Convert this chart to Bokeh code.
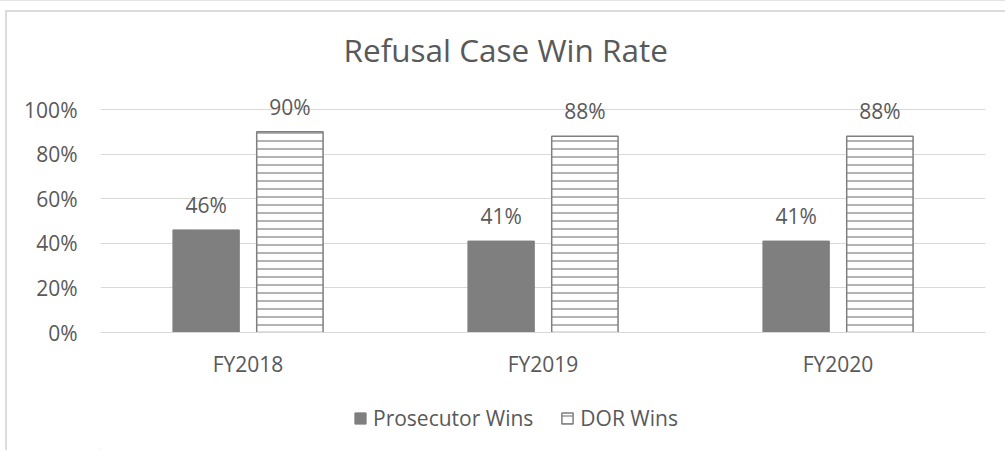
from bokeh.plotting import figure
from bokeh.layouts import column
from bokeh.models import (ColumnDataSource, FactorRange, Range1d, FixedTicker,
                          LabelSet, Legend, LegendItem, Title, NumeralTickFormatter)
from bokeh.transform import dodge
from bokeh.core.properties import value
from bokeh.embed import file_html
from bokeh.resources import INLINE

# ---- data ----
categories = ["FY2018", "FY2019", "FY2020"]
prosecutor_wins = [0.46, 0.41, 0.41]
dor_wins = [0.90, 0.88, 0.88]
y_ticks = [0, 0.2, 0.4, 0.6, 0.8, 1.0]
series_names = ["Prosecutor Wins", "DOR Wins"]

FONT = "Open Sans"
TXT = "#595959"
GREY = "#7f7f7f"
GRID = "#d9d9d9"
FS = "21px"

src = ColumnDataSource(dict(
    cat=categories,
    pros=prosecutor_wins,
    dor=dor_wins,
    pros_lbl=[f"{round(v*100)}%" for v in prosecutor_wins],
    dor_lbl=[f"{round(v*100)}%" for v in dor_wins],
))

p = figure(width=1005, height=390, output_backend="svg", toolbar_location=None,
           x_range=FactorRange(factors=categories, range_padding=0),
           y_range=Range1d(0, 1.1749),
           min_border_left=100, min_border_right=20, min_border_top=70,
           min_border_bottom=58)
p.outline_line_color = None
p.background_fill_color = "white"
p.border_fill_color = None

bw = 0.225
off = 0.142
pros_style = dict(fill_color=GREY, line_color=GREY, line_width=1)
dor_style = dict(fill_color="white", line_color=GREY, line_width=1.5,
                 hatch_pattern="horizontal_line", hatch_color=GREY, hatch_scale=8,
                 hatch_weight=1.2)
p.vbar(x=dodge("cat", -off, range=p.x_range), top="pros", width=bw, source=src, **pros_style)
p.vbar(x=dodge("cat", off, range=p.x_range), top="dor", width=bw, source=src, **dor_style)

for col, lbl, o in (("pros", "pros_lbl", -off), ("dor", "dor_lbl", off)):
    ls = LabelSet(x=dodge("cat", o, range=p.x_range), y=col, text=lbl, source=src,
                  text_align="center", text_baseline="alphabetic", y_offset=17,
                  text_font=value(FONT), text_font_size=FS, text_color=TXT)
    p.add_layout(ls)

# axes
p.yaxis.ticker = FixedTicker(ticks=y_ticks)
p.yaxis.formatter = NumeralTickFormatter(format="0%")
p.yaxis.axis_line_color = None
p.yaxis.major_tick_line_color = None
p.yaxis.minor_tick_line_color = None
p.yaxis.major_label_standoff = 17
p.yaxis.major_label_text_font = FONT
p.yaxis.major_label_text_font_size = FS
p.yaxis.major_label_text_color = TXT

p.xaxis.axis_line_color = GRID
p.xaxis.major_tick_line_color = None
p.xaxis.minor_tick_line_color = None
p.xaxis.major_label_standoff = 11
p.xaxis.major_label_text_font = FONT
p.xaxis.major_label_text_font_size = FS
p.xaxis.major_label_text_color = TXT

p.xgrid.grid_line_color = None
p.ygrid.grid_line_color = GRID
p.ygrid.grid_line_width = 1

p.title = Title(text="Refusal Case Win Rate", align="left", offset=243,
                text_font=FONT, text_font_size="31.5px", text_color=TXT,
                text_font_style="normal", standoff=0)

# legend strip below the chart: legend renderers use the same data, far out of view
lg = figure(width=1005, height=60, output_backend="svg", toolbar_location=None,
            x_range=Range1d(10, 11), y_range=Range1d(10, 11),
            x_axis_type=None, y_axis_type=None,
            min_border_left=0, min_border_right=0, min_border_top=0, min_border_bottom=0)
lg.outline_line_color = None
lg.background_fill_color = None
lg.border_fill_color = None
lg.xgrid.grid_line_color = None
lg.ygrid.grid_line_color = None
lr1 = lg.vbar(x="pros", top="pros", width=0.01, source=src, **pros_style)
lr2 = lg.vbar(x="dor", top="dor", width=0.01, source=src, **dor_style)
legend = Legend(items=[LegendItem(label=series_names[0], renderers=[lr1]),
                       LegendItem(label=series_names[1], renderers=[lr2])],
                orientation="horizontal", location=(253, 18),
                label_text_font=FONT, label_text_font_size=FS, label_text_color=TXT,
                glyph_width=14, glyph_height=14, label_standoff=6, spacing=27,
                padding=0, margin=0, border_line_color=None, background_fill_alpha=0)
lg.add_layout(legend, "center")

layout = column(p, lg, spacing=0)
layout.styles = {
    "background": ("linear-gradient(#e3e3e3,#e3e3e3) 0px 0px / 100% 1px no-repeat, "
                   "linear-gradient(#dcdcdc,#dcdcdc) 5px 10px / 2px 100% no-repeat, "
                   "linear-gradient(#dcdcdc,#dcdcdc) 5px 10px / 100% 2px no-repeat, "
                   "white")
}
open("out.html", "w").write(file_html(layout, INLINE))
